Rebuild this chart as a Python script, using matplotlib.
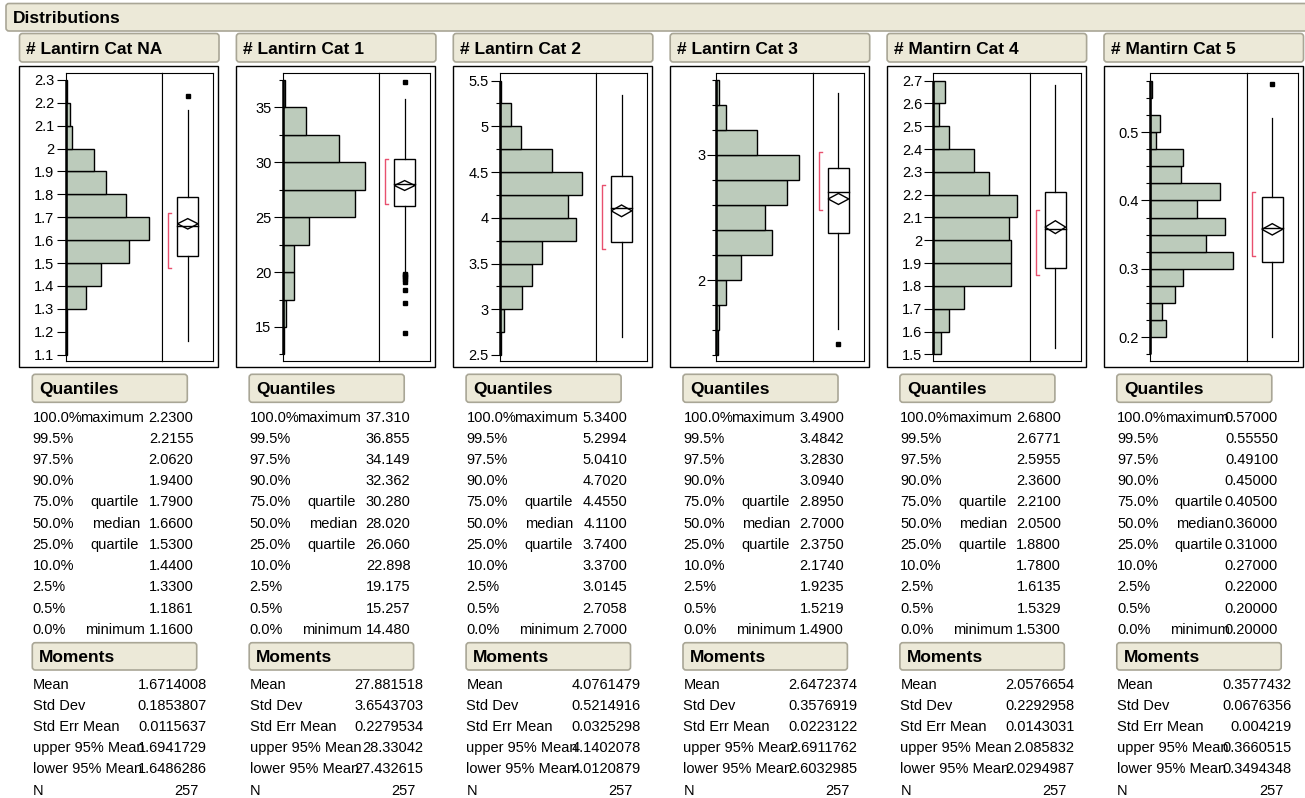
import numpy as np
import matplotlib
matplotlib.use('Agg')
import matplotlib.pyplot as plt
from matplotlib.patches import FancyBboxPatch, Rectangle, Polygon

plt.rcParams['font.family'] = ['Liberation Sans', 'DejaVu Sans']

# ---- data ----
titles = ["# Lantirn Cat NA", "# Lantirn Cat 1", "# Lantirn Cat 2",
          "# Lantirn Cat 3", "# Mantirn Cat 4", "# Mantirn Cat 5"]

# histogram bins (lowest edge, width) and counts from bottom to top
bin_lo = [1.1, 12.5, 2.5, 1.4, 1.5, 0.175]
bin_w = [0.1, 2.5, 0.25, 0.2, 0.1, 0.025]
counts_na = [1, 1, 15, 26, 47, 62, 45, 30, 21, 5, 3, 1]
counts_c1 = [1, 3, 10, 10, 23, 64, 73, 50, 21, 2]
counts_c2 = [1, 3, 14, 20, 26, 47, 42, 51, 32, 13, 7, 1]
counts_c3 = [1, 2, 7, 18, 41, 36, 52, 61, 30, 7, 2]
counts_c4 = [4, 8, 16, 40, 40, 39, 43, 29, 21, 8, 3, 6]
counts_c5 = [0, 8, 6, 13, 17, 43, 29, 39, 24, 36, 16, 17, 3, 5, 0, 1]
all_counts = [counts_na, counts_c1, counts_c2, counts_c3, counts_c4, counts_c5]

# axis scales
y_limits = [(1.072, 2.329), (11.9, 38.1), (2.434, 5.58),
            (1.354, 3.65), (1.471, 2.732), (0.1653, 0.5858)]
axis_range = [(1.1, 2.3), (12.5, 37.5), (2.5, 5.5), (1.4, 3.6), (1.5, 2.7), (0.175, 0.575)]
major_ticks = [[1.1, 1.2, 1.3, 1.4, 1.5, 1.6, 1.7, 1.8, 1.9, 2, 2.1, 2.2, 2.3],
               [15, 20, 25, 30, 35],
               [2.5, 3, 3.5, 4, 4.5, 5, 5.5],
               [2, 3],
               [1.5, 1.6, 1.7, 1.8, 1.9, 2, 2.1, 2.2, 2.3, 2.4, 2.5, 2.6, 2.7],
               [0.2, 0.3, 0.4, 0.5]]
count_max = [71.7, 85, 59.2, 70.8, 49.7, 49.9]

# box plot pieces
whisker_lo = [1.16, 19.9, 2.70, 1.61, 1.53, 0.20]
whisker_hi = [2.17, 35.8, 5.34, 3.49, 2.68, 0.52]
outliers = [[2.23],
            [37.31, 19.8, 19.7, 19.55, 19.4, 19.1, 18.4, 17.16, 14.48],
            [],
            [1.49],
            [],
            [0.57]]
shortest_half = [(1.48, 1.72), (26.16, 30.27), (3.66, 4.36),
                 (2.56, 3.02), (1.846, 2.135), (0.319, 0.412)]

q_pct = ["100.0%", "99.5%", "97.5%", "90.0%", "75.0%", "50.0%",
         "25.0%", "10.0%", "2.5%", "0.5%", "0.0%"]
q_name = ["maximum", "", "", "", "quartile", "median", "quartile", "", "", "", "minimum"]
q_na = ["2.2300", "2.2155", "2.0620", "1.9400", "1.7900", "1.6600",
        "1.5300", "1.4400", "1.3300", "1.1861", "1.1600"]
q_c1 = ["37.310", "36.855", "34.149", "32.362", "30.280", "28.020",
        "26.060", "22.898", "19.175", "15.257", "14.480"]
q_c2 = ["5.3400", "5.2994", "5.0410", "4.7020", "4.4550", "4.1100",
        "3.7400", "3.3700", "3.0145", "2.7058", "2.7000"]
q_c3 = ["3.4900", "3.4842", "3.2830", "3.0940", "2.8950", "2.7000",
        "2.3750", "2.1740", "1.9235", "1.5219", "1.4900"]
q_c4 = ["2.6800", "2.6771", "2.5955", "2.3600", "2.2100", "2.0500",
        "1.8800", "1.7800", "1.6135", "1.5329", "1.5300"]
q_c5 = ["0.57000", "0.55550", "0.49100", "0.45000", "0.40500", "0.36000",
        "0.31000", "0.27000", "0.22000", "0.20000", "0.20000"]
all_q = [q_na, q_c1, q_c2, q_c3, q_c4, q_c5]

m_name = ["Mean", "Std Dev", "Std Err Mean", "upper 95% Mean", "lower 95% Mean", "N"]
m_na = ["1.6714008", "0.1853807", "0.0115637", "1.6941729", "1.6486286", "257"]
m_c1 = ["27.881518", "3.6543703", "0.2279534", "28.33042", "27.432615", "257"]
m_c2 = ["4.0761479", "0.5214916", "0.0325298", "4.1402078", "4.0120879", "257"]
m_c3 = ["2.6472374", "0.3576919", "0.0223122", "2.6911762", "2.6032985", "257"]
m_c4 = ["2.0576654", "0.2292958", "0.0143031", "2.085832", "2.0294987", "257"]
m_c5 = ["0.3577432", "0.0676356", "0.004219", "0.3660515", "0.3494348", "257"]
all_m = [m_na, m_c1, m_c2, m_c3, m_c4, m_c5]

# ---- style ----
W, H = 1305, 798
beige = '#ECE9D8'
beige_edge = '#A9A696'
bar_fill = '#BCCBBB'
red = '#E8506E'
fs = 10.5
fs_head = 12.5
name_center = {"maximum": 93, "quartile": 95.5, "median": 96.8, "minimum": 96}

fig = plt.figure(figsize=(W / 100, H / 100), dpi=100)
canvas = fig.add_axes([0, 0, 1, 1])
canvas.set_xlim(0, W)
canvas.set_ylim(H, 0)
canvas.axis('off')


def header(x, y, w, h, text):
    canvas.add_patch(FancyBboxPatch((x, y), w, h, boxstyle="round,pad=0,rounding_size=3",
                                    facecolor=beige, edgecolor=beige_edge, lw=1.2))
    canvas.text(x + 7, y + h / 2 + 6, text, fontsize=fs_head, fontweight='bold',
                ha='left', va='baseline')


def px_axes(x0, y0, x1, y1):
    return fig.add_axes([x0 / W, 1 - y1 / H, (x1 - x0) / W, (y1 - y0) / H])


header(6, 3.5, 1310, 27.5, "Distributions")

pitch = 216.9
for i in range(6):
    x0 = 19 + pitch * i
    header(x0 + 0.5, 33.5, 199.5, 28.5, titles[i])
    canvas.add_patch(Rectangle((x0, 66), 199, 301, fill=False, edgecolor='black', lw=1.0))

    lo, w = bin_lo[i], bin_w[i]
    cnt = all_counts[i]
    edges = lo + w * np.arange(len(cnt) + 1)
    ylo, yhi = y_limits[i]

    # histogram
    ax = px_axes(x0 + 46.7, 73.3, x0 + 143, 361)
    ax.barh(edges[:-1], cnt, height=w, align='edge', color=bar_fill,
            edgecolor='black', linewidth=1.0)
    ax.set_xlim(0, count_max[i])
    ax.set_ylim(ylo, yhi)
    ax.set_xticks([])
    ax.set_yticks(major_ticks[i])
    ax.set_yticklabels(['%g' % t for t in major_ticks[i]])
    minor = [e for e in edges if min(abs(e - t) for t in major_ticks[i]) > 1e-9]
    ax.set_yticks(minor, minor=True)
    ax.tick_params(axis='y', which='major', direction='out', length=6.5, width=0.8,
                   labelsize=fs, pad=1.5)
    ax.tick_params(axis='y', which='minor', direction='out', length=3, width=0.8)
    for s in ax.spines.values():
        s.set_linewidth(0.8)
    a0, a1 = axis_range[i]
    ax.plot([0, 0], [a0, a1], color='black', lw=1.8, clip_on=False, solid_capstyle='butt')

    # outlier box plot
    q = [float(v) for v in all_q[i]]
    m = [float(v) for v in all_m[i]]
    q3, med, q1 = q[4], q[5], q[6]
    mean, upper, lower = m[0], m[3], m[4]
    bx = px_axes(x0 + 143, 73.3, x0 + 194.5, 361)
    bx.set_xlim(0, 1)
    bx.set_ylim(ylo, yhi)
    bx.set_xticks([])
    bx.set_yticks([])
    for s in bx.spines.values():
        s.set_linewidth(0.8)
    bx.add_patch(Rectangle((0.3, q1), 0.4, q3 - q1, fill=False, edgecolor='black', lw=1.0))
    bx.plot([0.5, 0.5], [q3, whisker_hi[i]], color='black', lw=0.9)
    bx.plot([0.5, 0.5], [whisker_lo[i], q1], color='black', lw=0.9)
    bx.plot([0.3, 0.7], [med, med], color='black', lw=1.0)
    bx.add_patch(Polygon([(0.3, mean), (0.5, upper), (0.7, mean), (0.5, lower)],
                         closed=True, fill=False, edgecolor='black', lw=1.0))
    if outliers[i]:
        bx.plot([0.5] * len(outliers[i]), outliers[i], 's', color='black', ms=2.4)
    s0, s1 = shortest_half[i]
    bx.plot([0.174, 0.116, 0.116, 0.174], [s1, s1, s0, s0], color=red, lw=1.0)

    # Quantiles table
    header(x0 + 13.3, 374.3, 155, 28, "Quantiles")
    for k in range(11):
        yb = 421.5 + 21.23 * k
        canvas.text(x0 + 13.7, yb, q_pct[k], fontsize=fs, ha='left', va='baseline')
        if q_name[k]:
            canvas.text(x0 + name_center[q_name[k]], yb, q_name[k], fontsize=fs,
                        ha='center', va='baseline')
        canvas.text(x0 + 174.5, yb, all_q[i][k], fontsize=fs, ha='right', va='baseline')

    # Moments table
    header(x0 + 13.3, 642.7, 164.4, 27.3, "Moments")
    for k in range(6):
        yb = 689.2 + 21.07 * k
        canvas.text(x0 + 13.7, yb, m_name[k], fontsize=fs, ha='left', va='baseline')
        xr = x0 + 180 if m_name[k] == "N" else x0 + 187.7
        canvas.text(xr, yb, all_m[i][k], fontsize=fs, ha='right', va='baseline')

fig.savefig('out.png', dpi=100, facecolor='white')
